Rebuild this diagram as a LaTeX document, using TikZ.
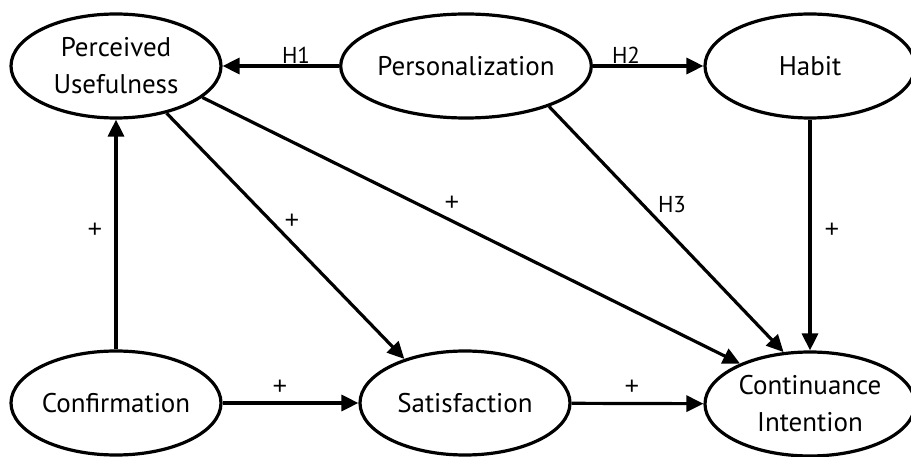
\documentclass[tikz,border=0pt]{standalone}
\usepackage{fontspec}
\setmainfont{PT Sans}
\newfontfamily\plusfont{Liberation Sans}
\usetikzlibrary{arrows.meta,shapes.geometric}
\tikzset{
  construct/.style={draw,ellipse,line width=3.2pt,minimum width=210pt,minimum height=104pt,
    inner sep=0pt,align=center,font=\fontsize{27}{37}\selectfont},
  link/.style={line width=3.2pt,-{Triangle[length=17pt,width=16pt]}},
  lbl/.style={inner sep=0pt,font=\fontsize{23}{24}\selectfont},
  plus/.style={inner sep=0pt,font=\plusfont\fontsize{25}{25}\selectfont}
}

\begin{document}
\begin{tikzpicture}[x=1pt,y=-1pt]
  \useasboundingbox (0,0) rectangle (911,457);
  % constructs
  \node[construct] (pu) at (116,66) {Perceived\\Usefulness};
  \node[construct] (pers) at (466,66) {Personalization};
  \node[construct] (habit) at (810,66) {Habit};
  \node[construct] (conf) at (116,403) {Confirmation};
  \node[construct] (sat) at (465,403) {Satisfaction};
  \node[construct] (ci) at (810,404) {Continuance\\Intention};
  % hypotheses
  \draw[link] (pers) -- (pu);
  \draw[link] (pers) -- (habit);
  \draw[link] (pers.-26) -- (ci.117);
  % base model
  \draw[link] (conf) -- (pu);
  \draw[link] (pu.-43) -- (sat.144);
  \draw[link] (pu.-20) -- (ci.150);
  \draw[link] (habit) -- (ci);
  \draw[link] (conf) -- (sat);
  \draw[link] (sat) -- (ci);
  % labels
  \node[lbl] (h1) at (296,55) {H1};
  \node[lbl] (h2) at (626,55) {H2};
  \node[lbl] (h3) at (672,205) {H3};
  \node[plus] (p1) at (95,230) {+};
  \node[plus] (p2) at (292,221) {+};
  \node[plus] (p3) at (452,203) {+};
  \node[plus] (p4) at (832,230) {+};
  \node[plus] (p5) at (280,387) {+};
  \node[plus] (p6) at (632,387) {+};
\end{tikzpicture}
\end{document}
